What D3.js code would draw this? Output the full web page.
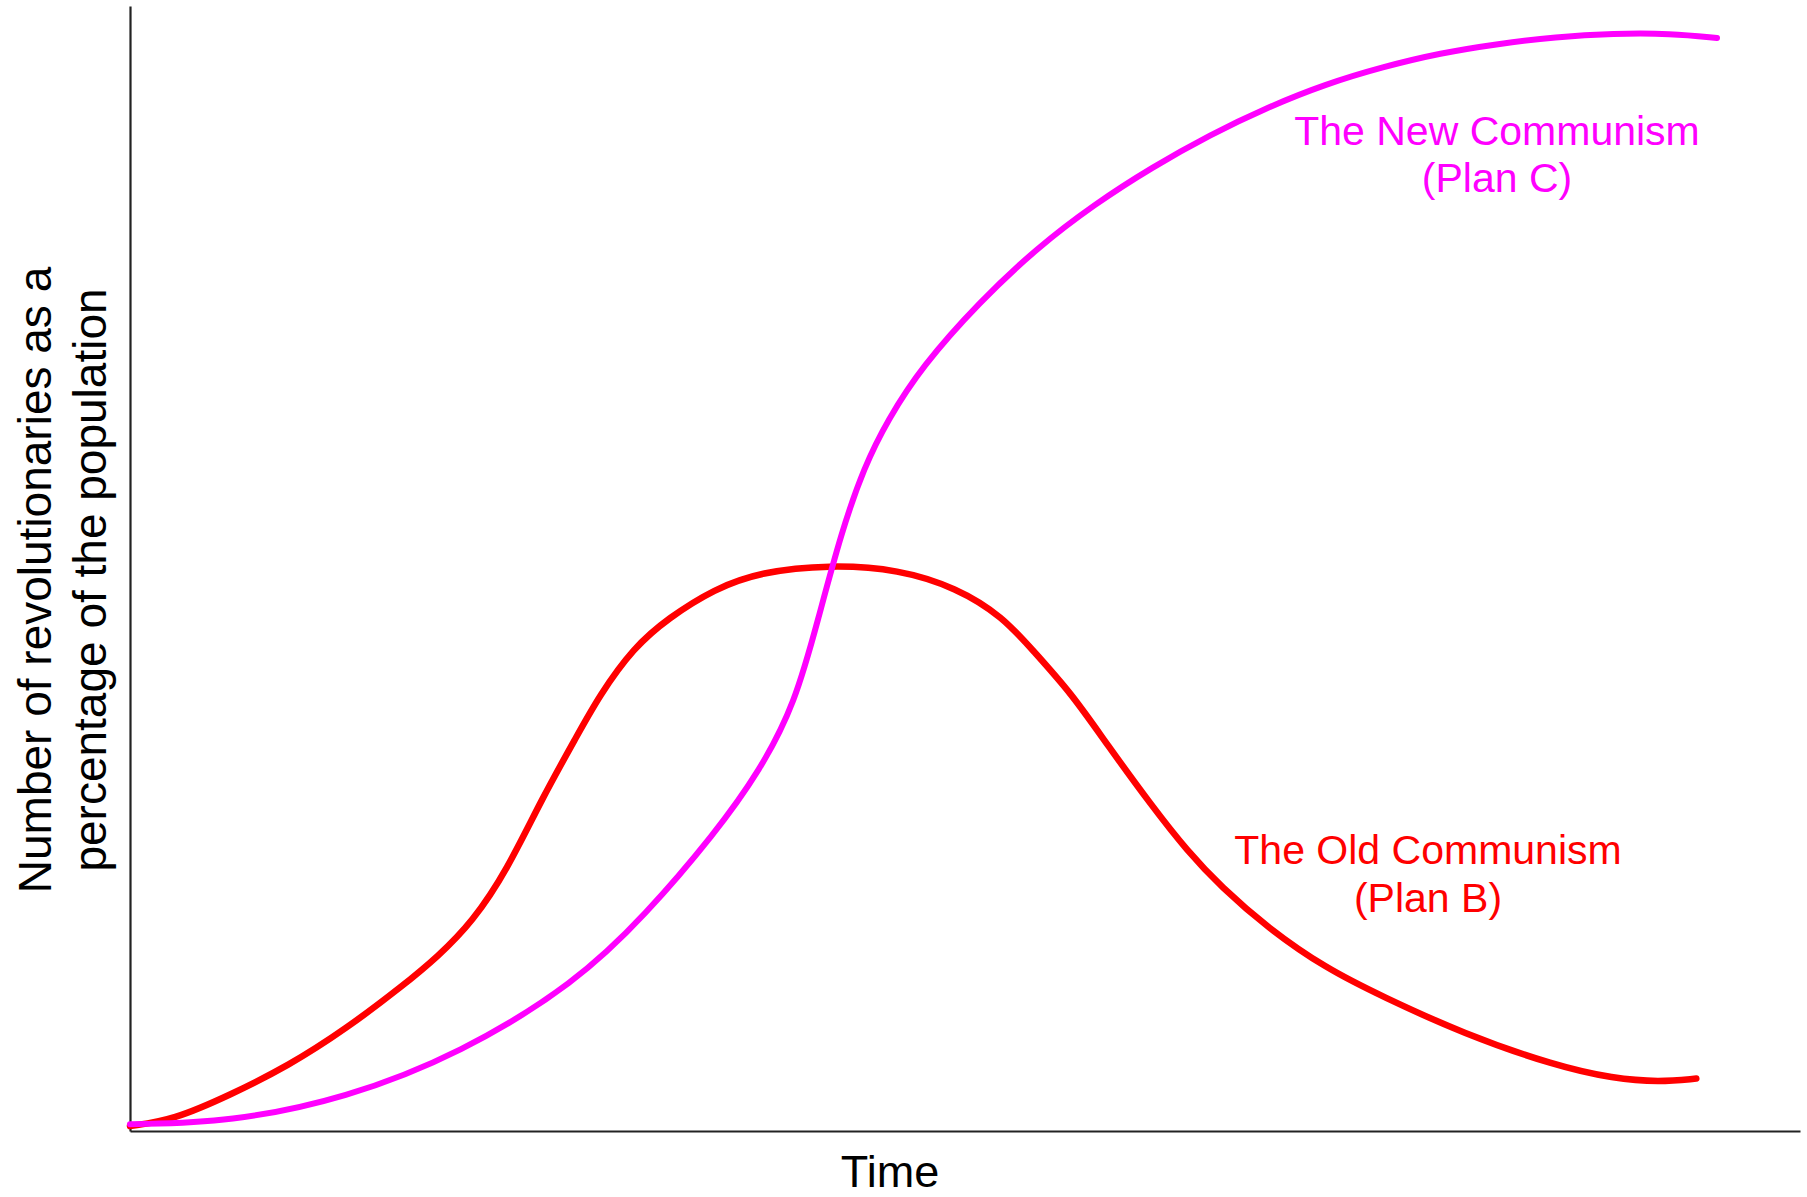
<!DOCTYPE html>
<html>
<head>
<meta charset="utf-8">
<script src="https://cdn.jsdelivr.net/npm/d3@7"></script>
<style>
  html, body { margin: 0; padding: 0; background: #fff; }
  svg { display: block; }
  text { font-family: "Liberation Sans", Arial, Helvetica, sans-serif; }
</style>
</head>
<body>
<svg id="chart" width="1807" height="1197"></svg>
<script>
// Time (0-100) and share of revolutionaries (0-100)
const oldTime = [0, 2.57, 6.02, 9.47, 12.92, 16.37, 18.44, 20.51, 22.58, 24.65, 26.72, 28.1, 30.17, 32.24, 35.0, 37.76, 41.9, 46.04, 49.49, 52.25, 54.1, 56.39, 58.46, 61.22, 63.29, 65.36, 68.12, 71.57, 75.02, 79.85, 85.37, 88.83, 91.59, 93.79];
const oldShare = [0.45, 0.97, 3.22, 5.78, 9.06, 12.95, 15.51, 18.59, 23.2, 29.5, 35.0, 38.7, 43.0, 45.6, 48.2, 49.7, 50.34, 49.93, 48.29, 45.73, 42.66, 38.87, 34.46, 28.83, 24.93, 21.66, 18.07, 14.49, 11.93, 8.65, 5.78, 4.66, 4.35, 4.66];

const newTime = [0, 6.02, 12.92, 19.82, 26.72, 30.86, 35.0, 37.76, 39.83, 41.21, 42.59, 43.97, 45.35, 47.42, 50.87, 54.32, 57.77, 61.22, 64.67, 68.12, 71.57, 75.02, 78.47, 81.92, 85.37, 88.83, 92.28, 95.03];
const newShare = [0.6, 0.8, 2.9, 6.9, 13.2, 19.2, 26.4, 32.11, 38.05, 45.5, 53.21, 59.05, 63.15, 67.96, 73.7, 78.51, 82.4, 85.68, 88.55, 91.0, 93.05, 94.59, 95.82, 96.64, 97.25, 97.56, 97.56, 97.16];

const seriesNames = ["The Old Communism", "The New Communism"];
const seriesSubs = ["(Plan B)", "(Plan C)"];
const xTitle = "Time";
const yTitleLines = ["Number of revolutionaries as a", "percentage of the population"];

const svg = d3.select("#chart");
const x = d3.scaleLinear().domain([0, 100]).range([130, 1800]);
const y = d3.scaleLinear().domain([0, 100]).range([1131, 6]);

// axes (no ticks)
svg.append("g").attr("transform", `translate(0,${y(0)})`)
  .call(d3.axisBottom(x).tickValues([]).tickSizeOuter(0));
svg.append("g").attr("transform", `translate(${x(0)},0)`)
  .call(d3.axisLeft(y).tickValues([]).tickSizeOuter(0));
svg.selectAll(".domain").attr("stroke", "#222").attr("stroke-width", 2.2);

const line = d3.line()
  .x(d => x(d[0]))
  .y(d => y(d[1]))
  .curve(d3.curveBasis);

const oldData = oldTime.map((t, i) => [t, oldShare[i]]);
const newData = newTime.map((t, i) => [t, newShare[i]]);

svg.append("path").datum(oldData)
  .attr("d", line).attr("fill", "none")
  .attr("stroke", "#ff0000").attr("stroke-width", 6.5)
  .attr("stroke-linecap", "round").attr("stroke-linejoin", "round");

svg.append("path").datum(newData)
  .attr("d", line).attr("fill", "none")
  .attr("stroke", "#ff00ff").attr("stroke-width", 6)
  .attr("stroke-linecap", "round").attr("stroke-linejoin", "round");

// series labels
const labels = [
  { name: seriesNames[1], sub: seriesSubs[1], cx: 1497, y1: 145, y2: 192, color: "#ff00ff" },
  { name: seriesNames[0], sub: seriesSubs[0], cx: 1428, y1: 864, y2: 912, color: "#ff0000" }
];
labels.forEach(l => {
  const t = svg.append("text").attr("text-anchor", "middle")
    .attr("fill", l.color).style("font-size", "41px");
  t.append("tspan").attr("x", l.cx).attr("y", l.y1).text(l.name);
  t.append("tspan").attr("x", l.cx).attr("y", l.y2).text(l.sub);
});

// axis titles
svg.append("text").attr("x", 890).attr("y", 1187)
  .attr("text-anchor", "middle").attr("fill", "#000")
  .style("font-size", "45px").text(xTitle);

const yt = svg.append("text")
  .attr("transform", "translate(51,580) rotate(-90)")
  .attr("text-anchor", "middle").attr("fill", "#000")
  .style("font-size", "46px");
yt.append("tspan").attr("x", 0).attr("y", 0).text(yTitleLines[0]);
yt.append("tspan").attr("x", 0).attr("y", 55).text(yTitleLines[1]);
</script>
</body>
</html>
